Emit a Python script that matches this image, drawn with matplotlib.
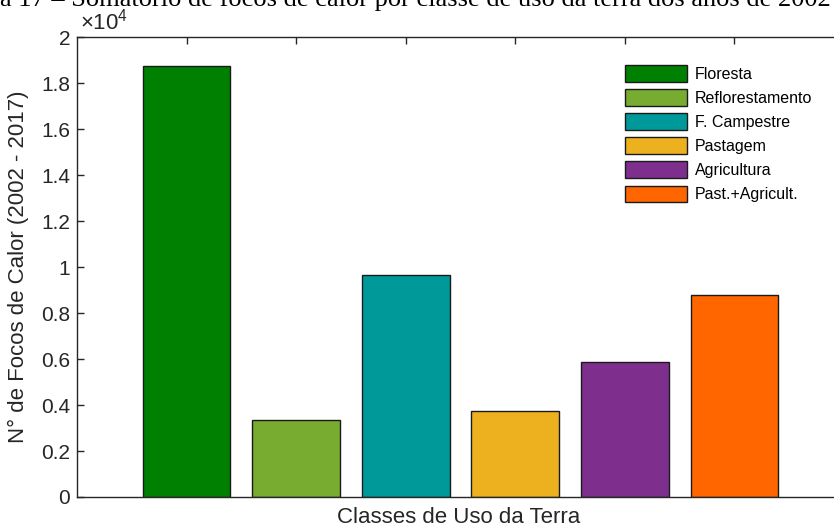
import matplotlib
matplotlib.use("Agg")
import matplotlib.pyplot as plt
from matplotlib.patches import Patch

categories = ["Floresta", "Reflorestamento", "F. Campestre", "Pastagem", "Agricultura", "Past.+Agricult."]
values = [18770, 3340, 9660, 3755, 5860, 8780]
colors = ["#008000", "#77AC30", "#009999", "#EDB120", "#7E2F8E", "#FF6600"]
yticks = [0, 2000, 4000, 6000, 8000, 10000, 12000, 14000, 16000, 18000, 20000]
ytick_labels = ["0", "0.2", "0.4", "0.6", "0.8", "1", "1.2", "1.4", "1.6", "1.8", "2"]

plt.rcParams['font.family'] = ['Liberation Sans', 'DejaVu Sans']
plt.rcParams['mathtext.fontset'] = 'custom'
plt.rcParams['mathtext.rm'] = 'Liberation Sans'
plt.rcParams['mathtext.it'] = 'Liberation Sans'

W, H = 834, 529
fig = plt.figure(figsize=(W / 100, H / 100), dpi=100)
L, R, T, B = 77, 844, 37.3, 497
ax = fig.add_axes([L / W, 1 - B / H, (R - L) / W, (B - T) / H])

x = list(range(1, len(values) + 1))
ax.bar(x, values, width=0.8, color=colors, edgecolor="#1a1a1a", linewidth=1.0, zorder=2)

ax.set_xlim(0, 7)
ax.set_ylim(0, 20000)
ax.set_yticks(yticks)
ax.set_yticklabels(ytick_labels, fontsize=15)
ax.set_xticks(x)
ax.tick_params(axis='x', which='both', labelbottom=False, top=True, bottom=True,
               direction='in', length=5, width=1, color="#262626")
ax.tick_params(axis='y', which='both', left=True, right=True, direction='in',
               length=5, width=1, color="#262626", labelcolor="#262626", pad=5)
for s in ax.spines.values():
    s.set_color("#262626")
    s.set_linewidth(1.0)

ax.set_ylabel("N° de Focos de Calor (2002 - 2017)", fontsize=16, color="#262626")
ax.yaxis.set_label_coords(-0.062, 0.5)
ax.set_xlabel("Classes de Uso da Terra", fontsize=16, color="#262626", va='top')
ax.xaxis.set_label_coords(0.497, -0.022)

ax.text(0.004, 1.006, r"$\times10^{4}$", transform=ax.transAxes, fontsize=16,
        color="#262626", ha='left', va='bottom')

handles = [Patch(facecolor=c, edgecolor="#1a1a1a", linewidth=1.0, label=l)
           for c, l in zip(colors, categories)]
leg = ax.legend(handles=handles, loc='upper left',
                bbox_to_anchor=((614 - L) / (R - L), (B - 54) / (B - T)),
                frameon=False, fontsize=11.5, handlelength=3.9, handleheight=1.25,
                handletextpad=0.45, labelspacing=0.45, borderpad=0.2)

fig.text(0.0, 1 - 6 / H, "a 17 – Somatório de focos de calor por classe de uso da terra dos anos de 2002",
         family='Liberation Serif', fontsize=19, ha='left', va='baseline', color='black')

fig.savefig("out.png", dpi=100)
